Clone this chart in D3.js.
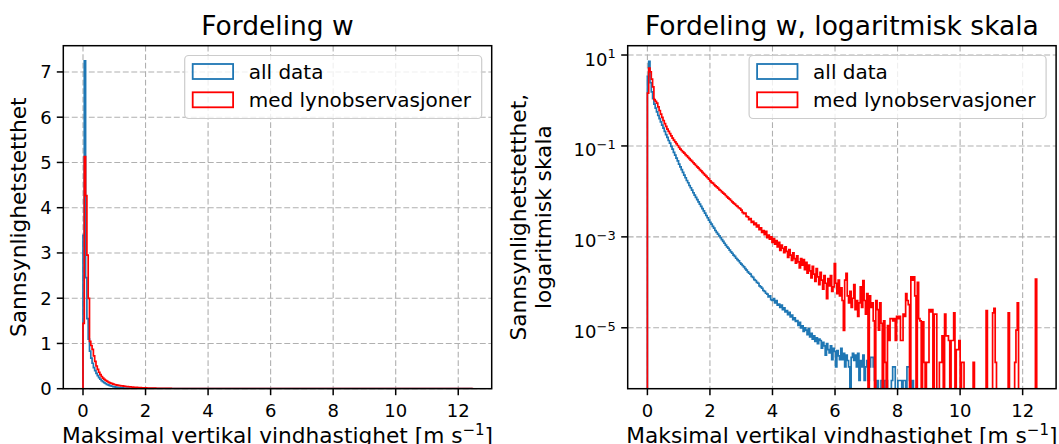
<!DOCTYPE html>
<html>
<head>
<meta charset="utf-8">
<script src="https://cdn.jsdelivr.net/npm/d3@7"></script>
<style>
  body { margin: 0; background: #fff; }
  svg text { font-family: "DejaVu Sans", sans-serif; fill: #000; }
</style>
</head>
<body>
<svg id="chart" width="1059" height="444"></svg>
<script>
// histogram range (300 equal bins)
const binLow = 0, binHigh = 12.45;

// log10 of the density per bin, null = empty bin
const allDataLog10 = [
  0.53, 0.86, 0.39, 0.19, 0.04, -0.08, -0.17, -0.25, -0.33, -0.40,
  -0.47, -0.54, -0.61, -0.68, -0.75, -0.81, -0.88, -0.94, -1.01, -1.07,
  -1.14, -1.20, -1.27, -1.33, -1.40, -1.46, -1.52, -1.58, -1.64, -1.70,
  -1.76, -1.81, -1.87, -1.92, -1.97, -2.03, -2.08, -2.13, -2.18, -2.23,
  -2.28, -2.33, -2.38, -2.43, -2.48, -2.53, -2.58, -2.63, -2.68, -2.72,
  -2.77, -2.81, -2.86, -2.90, -2.94, -2.98, -3.02, -3.06, -3.10, -3.14,
  -3.18, -3.22, -3.25, -3.29, -3.33, -3.36, -3.40, -3.43, -3.47, -3.50,
  -3.53, -3.57, -3.60, -3.63, -3.66, -3.70, -3.73, -3.77, -3.80, -3.82,
  -3.87, -3.89, -3.94, -3.96, -4.00, -4.02, -4.08, -4.10, -4.13, -4.18,
  -4.20, -4.24, -4.26, -4.32, -4.30, -4.38, -4.40, -4.36, -4.45, -4.40,
  -4.50, -4.48, -4.55, -4.50, -4.60, -4.56, -4.65, -4.62, -4.71, -4.66,
  -4.76, -4.72, -4.82, -4.78, -4.86, -4.84, -4.95, -4.88, -5.00, -4.96,
  -5.08, -5.00, -5.05, -5.15, -5.02, -5.20, -5.12, -5.25, -5.18, -5.30,
  -5.22, -5.35, -5.25, -5.28, -5.45, -5.32, -5.40, -5.60, -5.35, -5.48,
  -5.55, -5.40, -5.70, -5.45, -5.52, -5.86, -5.50, -5.62, -5.70, -5.45,
  -5.70, -5.56, -5.86, -5.60, -5.72, -5.86, null, -5.65, -5.56, -5.72,
  -5.60, -5.86, -5.56, -6.16, -5.72, -5.86, -5.60, -6.16, -5.86, -5.72,
  -6.16, -5.86, -5.65, -5.65, -5.86, -6.16, null, -6.16, null, null,
  -6.16, -6.16, null, -6.16, -6.16, null, null, null, -6.16, -5.86,
  -5.86, null, null, -6.16, -6.16, -6.16, null, -6.16, -6.16, null,
  -5.86, -5.86, -6.16, null, -6.16, null, null, null, null, null,
  null, null, null, null, null, null, null, null, null, null,
  null, null, null, null, null, null, null, null, null, null,
  null, null, null, null, null, null, null, null, null, null,
  null, null, null, null, null, null, null, null, null, null,
  null, null, null, null, null, null, null, null, null, null,
  null, null, null, null, null, null, null, null, null, null,
  null, null, null, null, null, null, null, null, null, null,
  null, null, null, null, null, null, null, null, null, null,
  null, null, null, null, null, null, null, null, null, null
];

const lightningLog10 = [
  0.16, 0.71, 0.63, 0.47, 0.30, 0.02, -0.02, -0.06, -0.14, -0.22,
  -0.30, -0.37, -0.44, -0.51, -0.57, -0.63, -0.68, -0.73, -0.78, -0.83,
  -0.87, -0.91, -0.95, -0.99, -1.03, -1.07, -1.10, -1.13, -1.16, -1.19,
  -1.22, -1.25, -1.28, -1.31, -1.34, -1.37, -1.40, -1.43, -1.46, -1.49,
  -1.52, -1.55, -1.58, -1.61, -1.64, -1.67, -1.70, -1.73, -1.77, -1.80,
  -1.82, -1.85, -1.88, -1.90, -1.93, -1.96, -1.98, -2.01, -2.04, -2.06,
  -2.09, -2.12, -2.15, -2.17, -2.20, -2.23, -2.26, -2.28, -2.31, -2.33,
  -2.36, -2.38, -2.41, -2.46, -2.49, -2.48, -2.55, -2.56, -2.62, -2.60,
  -2.68, -2.66, -2.73, -2.70, -2.78, -2.74, -2.84, -2.80, -2.90, -2.86,
  -2.95, -2.88, -3.02, -2.96, -3.05, -3.00, -3.12, -3.04, -3.16, -3.08,
  -3.22, -3.12, -3.30, -3.18, -3.25, -3.35, -3.22, -3.32, -3.45, -3.28,
  -3.40, -3.52, -3.35, -3.48, -3.58, -3.42, -3.55, -3.68, -3.48, -3.62,
  -3.50, -3.72, -3.56, -3.80, -3.62, -3.75, -3.90, -3.65, -3.82, -3.98,
  -3.70, -3.88, -4.05, -3.78, -3.95, -4.15, -3.85, -4.02, -4.36, -3.92,
  -4.08, -3.85, -4.20, -4.10, -3.59, -4.02, -4.25, -3.95, -4.30, -4.12,
  -4.40, -5.06, -3.95, -3.80, -4.30, -4.45, -4.20, -4.55, -4.35, -4.05,
  -4.60, -4.40, -4.75, -4.45, -4.10, -4.55, -3.96, -4.40, -4.70, -4.25,
  null, -4.30, -4.55, -4.45, -4.85, null, -4.40, -4.60, -5.05, -4.45,
  -4.90, null, -4.85, -5.76, null, -4.95, -5.28, -4.80, -4.80, -4.85,
  -4.80, -5.28, -4.75, -4.80, -4.75, -5.28, -5.28, -4.70, -4.75, -4.25,
  -4.40, -4.49, null, -3.88, -3.95, -3.88, -4.30, null, -4.00, -4.80,
  -4.85, null, -4.87, -5.76, null, -5.76, -5.76, -4.60, -4.65, -4.60,
  null, -4.70, -4.70, null, null, -5.76, -5.76, -5.18, null, -4.70,
  -5.18, -5.18, -5.28, null, -5.28, -5.28, -4.67, null, -5.48, -5.48,
  -5.28, null, -5.76, -5.76, null, null, null, null, null, null,
  null, -5.76, null, null, null, null, null, null, null, null,
  null, -4.62, null, null, null, null, -4.67, -4.57, -5.76, null,
  null, null, null, null, null, null, null, null, -4.67, null,
  null, null, null, -5.76, -5.05, -4.45, null, null, null, null,
  null, null, null, null, null, null, null, null, null, -3.93
];

const xTicks = [0, 2, 4, 6, 8, 10, 12];
const linTicks = [0, 1, 2, 3, 4, 5, 6, 7];
const logTickExps = [1, -1, -3, -5];
const seriesNames = ["all data", "med lynobservasjoner"];
const seriesColors = ["#1f77b4", "#ff0000"];
const titles = ["Fordeling w", "Fordeling w, logaritmisk skala"];

const svg = d3.select("#chart");
const plotTop = 45.7, plotBottom = 388.7, plotW = 428.4;
const xDomain = [-0.63, 13.07];

const panels = [
  { left: 63.3, log: false },
  { left: 627.7, log: true }
];

// step outline of a histogram, like matplotlib histtype="step"
function stepPath(vals, x, yOf, floorY) {
  const w = (binHigh - binLow) / vals.length;
  const pts = [[x(binLow), floorY]];
  vals.forEach((v, i) => {
    const yy = v == null ? floorY : yOf(v);
    pts.push([x(binLow + i * w), yy], [x(binLow + (i + 1) * w), yy]);
  });
  pts.push([x(binHigh), floorY]);
  return d3.line()(pts);
}

panels.forEach((p, k) => {
  const x = d3.scaleLinear().domain(xDomain).range([p.left, p.left + plotW]);
  const y = p.log
    ? d3.scaleLog().domain([Math.pow(10, -6.34), Math.pow(10, 1.205)]).range([plotBottom, plotTop])
    : d3.scaleLinear().domain([0, 7.58]).range([plotBottom, plotTop]);
  const g = svg.append("g");

  const clipId = "clip" + k;
  svg.append("clipPath").attr("id", clipId)
    .append("rect").attr("x", p.left).attr("y", plotTop).attr("width", plotW).attr("height", plotBottom - plotTop);

  // grid
  const grid = g.append("g").attr("stroke", "#b0b0b0").attr("stroke-width", 1.1)
    .attr("stroke-dasharray", "5.9,2.6");
  xTicks.forEach(t => grid.append("line")
    .attr("x1", x(t)).attr("x2", x(t)).attr("y1", plotTop).attr("y2", plotBottom));
  const yTickVals = p.log ? logTickExps.map(e => Math.pow(10, e)) : linTicks;
  yTickVals.forEach(t => grid.append("line")
    .attr("x1", p.left).attr("x2", p.left + plotW).attr("y1", y(t)).attr("y2", y(t)));

  // histograms
  const plotG = g.append("g").attr("clip-path", `url(#${clipId})`);
  [allDataLog10, lightningLog10].forEach((vals, s) => {
    const yOf = v => y(Math.pow(10, v));
    const floorY = p.log ? plotBottom + 6 : y(0);
    plotG.append("path")
      .attr("d", stepPath(vals, x, yOf, floorY))
      .attr("fill", "none")
      .attr("stroke", seriesColors[s])
      .attr("stroke-width", 1.7)
      .attr("stroke-linejoin", "miter");
  });

  // spines
  g.append("rect").attr("x", p.left).attr("y", plotTop).attr("width", plotW).attr("height", plotBottom - plotTop)
    .attr("fill", "none").attr("stroke", "#000").attr("stroke-width", 1.5);

  // x ticks
  xTicks.forEach(t => {
    g.append("line").attr("x1", x(t)).attr("x2", x(t)).attr("y1", plotBottom).attr("y2", plotBottom + 6.5)
      .attr("stroke", "#000").attr("stroke-width", 1.5);
    g.append("text").attr("x", x(t)).attr("y", 416.5).attr("text-anchor", "middle")
      .attr("font-size", 18).text(t);
  });

  // y ticks
  yTickVals.forEach((t, i) => {
    g.append("line").attr("x1", p.left - 6.5).attr("x2", p.left).attr("y1", y(t)).attr("y2", y(t))
      .attr("stroke", "#000").attr("stroke-width", 1.5);
    if (p.log) {
      const e = logTickExps[i];
      const txt = g.append("text").attr("x", p.left - 12).attr("y", y(t) + 10.5)
        .attr("text-anchor", "end").attr("font-size", 18);
      txt.append("tspan").text("10");
      txt.append("tspan").attr("dy", -7.5).attr("font-size", 13)
        .text(e < 0 ? "\u2212" + (-e) : String(e));
    } else {
      g.append("text").attr("x", p.left - 11.5).attr("y", y(t) + 6.5)
        .attr("text-anchor", "end").attr("font-size", 18).text(t);
    }
  });

  // title
  g.append("text").attr("x", p.left + plotW / 2).attr("y", 35).attr("text-anchor", "middle")
    .attr("font-size", 26.5).text(titles[k]);

  // x label
  const xl = g.append("text").attr("x", p.left + plotW / 2).attr("y", 442.5).attr("text-anchor", "middle")
    .attr("font-size", 21.7);
  xl.append("tspan").text("Maksimal vertikal vindhastighet [m s");
  xl.append("tspan").attr("dy", -8).attr("font-size", 15).text("\u22121");
  xl.append("tspan").attr("dy", 8).text("]");

  // y label
  const cy = (plotTop + plotBottom) / 2;
  if (p.log) {
    g.append("text").attr("transform", `translate(526,${cy}) rotate(-90)`)
      .attr("text-anchor", "middle").attr("font-size", 21.7).text("Sannsynlighetstetthet,");
    g.append("text").attr("transform", `translate(550.5,${cy}) rotate(-90)`)
      .attr("text-anchor", "middle").attr("font-size", 21.7).text("logaritmisk skala");
  } else {
    g.append("text").attr("transform", `translate(26,${cy}) rotate(-90)`)
      .attr("text-anchor", "middle").attr("font-size", 21.7).text("Sannsynlighetstetthet");
  }

  // legend
  const lx = p.left + plotW - 10 - 297, ly = 55.5;
  const lg = g.append("g");
  lg.append("rect").attr("x", lx).attr("y", ly).attr("width", 297).attr("height", 63).attr("rx", 4)
    .attr("fill", "#fff").attr("fill-opacity", 0.8).attr("stroke", "#cccccc").attr("stroke-width", 1.2);
  seriesNames.forEach((name, s) => {
    lg.append("rect").attr("x", lx + 8).attr("y", ly + 8.5 + s * 28.3).attr("width", 40.4).attr("height", 15)
      .attr("fill", "none").attr("stroke", seriesColors[s]).attr("stroke-width", 1.8);
    lg.append("text").attr("x", lx + 64).attr("y", ly + 23 + s * 28.3)
      .attr("font-size", 20).text(name);
  });
});
</script>
</body>
</html>
